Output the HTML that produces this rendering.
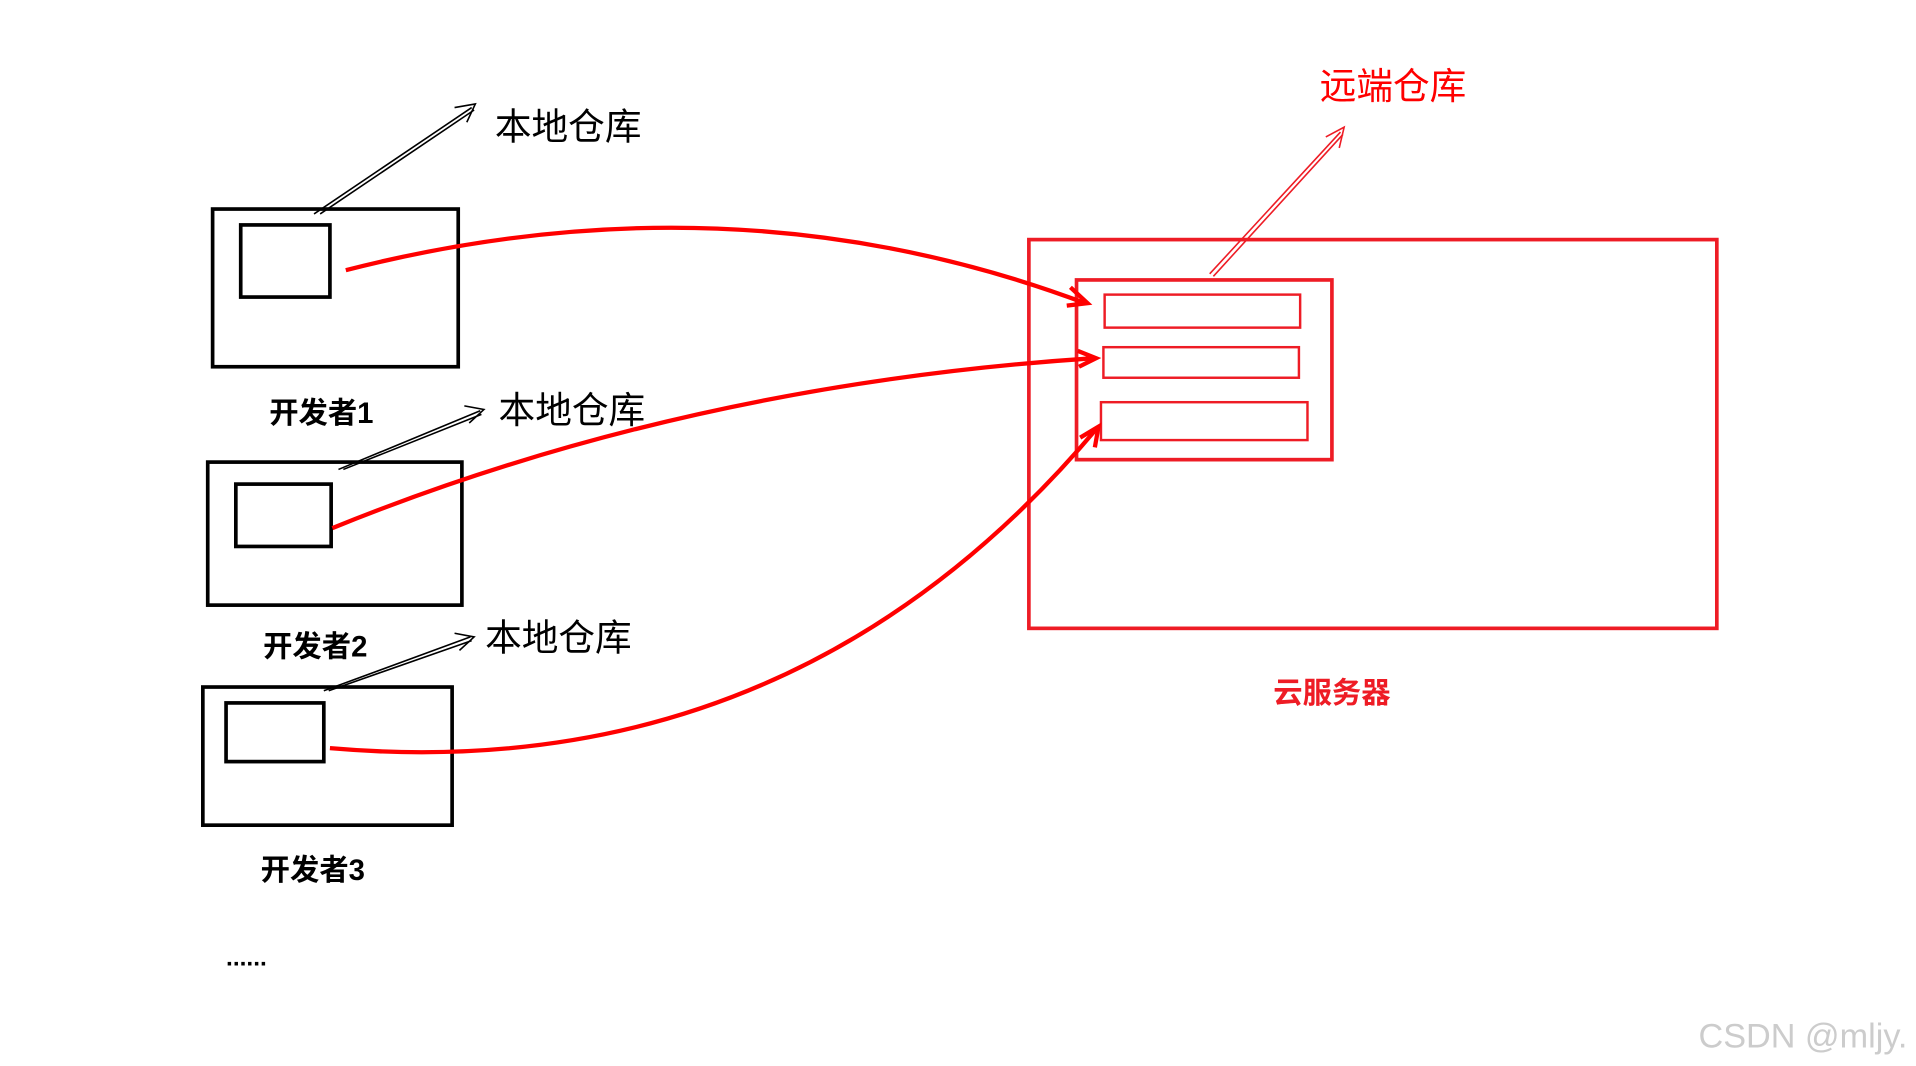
<!DOCTYPE html>
<html><head><meta charset="utf-8"><style>
html,body{margin:0;padding:0;background:#fff;width:1916px;height:1066px;overflow:hidden}
svg{display:block}
text{font-family:"Liberation Sans","Noto Sans CJK SC",sans-serif}
</style></head><body>
<svg width="1916" height="1066" viewBox="0 0 1568 872" preserveAspectRatio="none" xmlns="http://www.w3.org/2000/svg">
<g fill="none" stroke="#000" stroke-width="3">
<rect x="174" y="171" width="201" height="129"/>
<rect x="197" y="184" width="73" height="59"/>
<rect x="170" y="378" width="208" height="117"/>
<rect x="193" y="396" width="78" height="51"/>
<rect x="166" y="562" width="204" height="113"/>
<rect x="185" y="575" width="80" height="48"/>
</g>
<g fill="none" stroke="#000" stroke-width="1.3">
<path d="M257 175 L386 88 M262 175 L388 90"/>
<path d="M372 88 L389 85 L382 100"/>
<path d="M277 384 L393 336 M281 384 L394 339"/>
<path d="M380 332 L396 335 L384 346"/>
<path d="M265 565 L385 521 M269 565 L386 524"/>
<path d="M372 518 L388 521 L376 532"/>
</g>
<g font-size="30" fill="#000">
<text x="405" y="114">本地仓库</text>
<text x="408" y="346">本地仓库</text>
<text x="397" y="532">本地仓库</text>
</g>
<g font-size="24" font-weight="bold" fill="#000" text-anchor="middle">
<text x="263" y="346">开发者1</text>
<text x="258" y="537">开发者2</text>
<text x="256" y="720">开发者3</text>
</g>
<text x="185" y="790" font-size="20" font-weight="bold" fill="#000">......</text>
<g fill="none" stroke="#ee1c25">
<rect x="842" y="196" width="563" height="318" stroke-width="3"/>
<rect x="881" y="229" width="209" height="147" stroke-width="3"/>
<rect x="904" y="241" width="160" height="27" stroke-width="2"/>
<rect x="903" y="284" width="160" height="25" stroke-width="2"/>
<rect x="901" y="329" width="169" height="31" stroke-width="2"/>
<path d="M990 224 L1097 108 M993 226 L1099 110" stroke-width="1.3"/>
<path d="M1085 112 L1100 104 L1096 121" stroke-width="1.3"/>
<g stroke="#f00" stroke-width="3.5">
<path d="M283 221 Q600 140 888 248"/>
<path d="M876 235 L890 248 L873 250"/>
<path d="M272 432 Q560 315 895 293"/>
<path d="M882 287 L897 293 L883 300"/>
<path d="M270 612 Q650 645 898 350"/>
<path d="M884 358 L899 349 L896 366"/>
</g>
</g>
<text x="1140" y="81" font-size="30" fill="#f00" text-anchor="middle">远端仓库</text>
<text x="1090" y="575" font-size="24" font-weight="bold" fill="#ee1c25" text-anchor="middle">云服务器</text>
<text x="1390" y="857" font-size="28" fill="#ccc">CSDN @mljy.</text>
</svg>
</body></html>
